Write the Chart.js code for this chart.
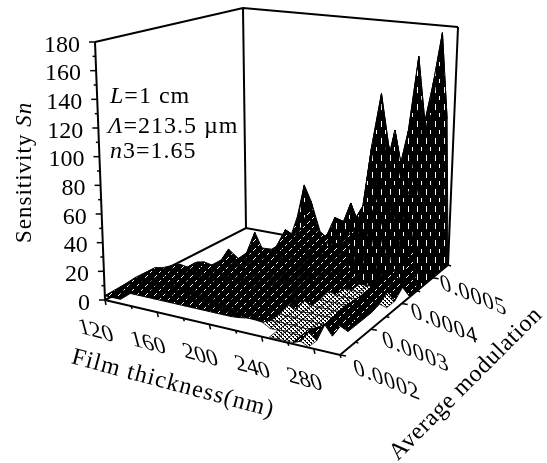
<!DOCTYPE html>
<html>
<head>
<meta charset="utf-8">
<style>
  html, body { margin: 0; background: #fff; }
  canvas { display: block; }
</style>
<script src="https://cdn.jsdelivr.net/npm/chart.js@4"></script>
</head>
<body>
<canvas id="chart" width="547" height="463"></canvas>
<script>
const _ = null;

const thickness = [120,126,132,138,144,150,156,162,168,174,180,186,192,198,204,210,216,222,228,234,240,246,252,258,264,270,276,282,288,294,300];
const modulation = [0.0002,0.000225,0.00025,0.000275,0.0003,0.000325,0.00035,0.000375,0.0004,0.000425,0.00045,0.000475,0.0005,0.000525,0.00055];

// sensitivity, one list per modulation (null = no surface there)
const sn200 = [3,3,3,_,_,_,_,_,_,_,_,_,_,_,_,_,_,_,_,_,_,1,1,1,1,3,0.5,_,_,_,_];
const sn225 = [3.5,3.5,3.5,3.5,3.5,3.5,3.5,3.5,3.5,3.5,3.5,3.5,3.5,3.5,3.5,3.5,4,5,5,4.5,1.5,1.5,2,1.5,1.5,5,0.5,_,_,_,_];
const sn250 = [4,4,4,4,4,4,4,4,4,4,4,4,4,4,4,4,4,4,3.5,1.5,2,1.5,2,1.5,1.5,4,7,0.5,_,_,_];
const sn275 = [5,4,5,4,5,5,4,5,5,5,5,5,5,5,5,5,5,4,4,2,1.5,2,1.5,2,1.5,2,8,3,0.5,_,_];
const sn300 = [5,5,6,5,5,6,5,5,6,5,6,6,5,6,6,6,5,6,5,4,2,1.5,2,1.5,2,2,9,8,0.5,_,_];
const sn325 = [5,6,5,6,5,6,5,6,5,6,7,6,7,6,7,7,6,7,6,5,4,2,1.5,2,1.5,2,9,11,0.5,_,_];
const sn350 = [_,4,6,5,9,6,5,6,6,7,6,7,8,7,8,7,8,8,7,6,5,2,1.5,2,1.5,2,8,12,0.5,_,_];
const sn375 = [_,_,_,5,6,5,7,6,7,8,7,8,9,8,9,10,9,10,9,8,7,3.5,2,1.5,2,1.5,8,14,2,0.5,_];
const sn400 = [_,_,_,_,_,5,14,7,8,7,9,8,10,9,11,10,12,11,13,12,11,9,2,2,1.5,2,8,16,6,0.5,_];
const sn425 = [_,_,_,_,_,_,3,6,8,7,9,11,9,10,13,11,14,13,18,15,18,16,8,2,2,2.5,8,14,18,6,0.5];
const sn450 = [_,_,_,_,_,_,4,20,9,7,12,10,10,14,12,16,20,18,24,22,30,36,50,42,56,40,58,85,62,40,0.5];
const sn475 = [_,_,_,_,_,_,_,_,4,8,21,12,9,12,16,14,24,37,28,30,40,50,95,60,78,52,70,110,78,96,0.5];
const sn500 = [_,_,_,_,_,_,_,_,_,4,12,20,12,8,7,10,22,30,45,28,38,62,131,72,105,80,95,162,92,120,0.5];
const sn525 = [_,_,_,_,_,_,_,_,_,22,48,36,14,4,6,8,12,16,24,30,45,70,88,55,70,80,88,110,140,178,0.5];
const sn550 = [_,_,_,_,_,_,_,_,_,_,_,8,4,3,5,6,10,14,20,24,30,36,58,40,50,60,78,100,120,110,0.5];
const surface = [sn200,sn225,sn250,sn275,sn300,sn325,sn350,sn375,sn400,sn425,sn450,sn475,sn500,sn525,sn550];

const snTicks = [0,20,40,60,80,100,120,140,160,180];
const thicknessTicks = [120,160,200,240,280];
const modulationTicks = [0.0002,0.0003,0.0004,0.0005];

const FONT = '"Liberation Serif", serif';
const tMin = 120, tMax = 300, mMin = 0.0002, mMax = 0.00055, snMax = 180;

// box corners on the page: A left, B back, C right, D front
const floorBox = { A: [105,300], B: [246,228], C: [448,265], D: [340,355] };
const topBox = { A: [95,42], B: [243,8], C: [458,27], D: [343,79] };

function bilinear(box, u, v) {
  const out = [];
  for (const k of [0,1]) {
    out[k] = box.A[k]*(1-u)*(1-v) + box.D[k]*u*(1-v) + box.C[k]*u*v + box.B[k]*(1-u)*v;
  }
  return out;
}

// oblique 3D view: (thickness, modulation, sensitivity) to the page scales
function project(t, m, s) {
  const u = (t - tMin) / (tMax - tMin);
  const v = (m - mMin) / (mMax - mMin);
  const f = bilinear(floorBox, u, v);
  const c = bilinear(topBox, u, v);
  const h = s / snMax;
  return { x: f[0] + (c[0]-f[0])*h, y: f[1] + (c[1]-f[1])*h };
}

function makePattern(w, h, bg, fg, dots) {
  const c = document.createElement('canvas');
  c.width = w; c.height = h;
  const g = c.getContext('2d');
  g.fillStyle = bg; g.fillRect(0, 0, w, h);
  g.fillStyle = fg;
  dots.forEach(d => g.fillRect(d[0], d[1], d[2], d[3]));
  return g.createPattern(c, 'repeat');
}
const lowFill = makePattern(9, 9, '#000', '#fff', [[1,7,1,1],[2,6,1,1],[3,5,1,1],[6,2,1,1],[7,1,1,1]]);
const tallFill = makePattern(9, 17, '#000', '#fff', [[3,2,1,6],[7,11,1,4]]);
const flatFill = makePattern(4, 4, '#fff', '#000', [[0,0,2,1],[2,2,2,1],[1,1,1,1],[3,3,1,1]]);

function line(points, width) {
  return { data: points, showLine: true, borderColor: '#000', borderWidth: width, pointRadius: 0, fill: false };
}

const painted = [];

// walls and floor, behind the surface
const p = project;
painted.push(line([p(tMin,mMin,snMax), p(tMin,mMax,snMax), p(tMax,mMax,snMax)], 2));
painted.push(line([p(tMin,mMin,0), p(tMin,mMin,snMax)], 2));
painted.push(line([p(tMin,mMax,0), p(tMin,mMax,snMax)], 2));
painted.push(line([p(tMax,mMax,0), p(tMax,mMax,snMax)], 2));
painted.push(line([p(tMin,mMin,0), p(tMin,mMax,0), p(tMax,mMax,0)], 2));
painted.push(line([p(tMin,mMin,0), p(tMax,mMin,0), p(tMax,mMax,0)], 2));

// tick marks
for (let s = 0; s <= snMax; s += 10) {
  const a = p(tMin, mMin, s);
  painted.push(line([a, { x: a.x - (s % 20 === 0 ? 6 : 3), y: a.y }], 1.5));
}
for (let t = tMin; t <= tMax; t += 20) {
  const a = p(t, mMin, 0);
  painted.push(line([a, { x: a.x + 1, y: a.y + ((t - tMin) % 40 === 0 ? 5 : 3) }], 1.5));
}
for (let i = 0; i <= 7; i++) {
  const a = p(tMax, mMin + i * 0.00005, 0);
  painted.push(line([a, { x: a.x + (i % 2 === 0 ? 6 : 3), y: a.y + 1 }], 1.5));
}

// surface cells, back row first so nearer cells cover farther ones
for (let j = modulation.length - 2; j >= 0; j--) {
  for (let i = 0; i < thickness.length - 1; i++) {
    const cell = [surface[j][i], surface[j][i+1], surface[j+1][i+1], surface[j+1][i]];
    if (cell.some(s => s === null)) continue;
    const mean = (cell[0] + cell[1] + cell[2] + cell[3]) / 4;
    const flat = mean < 2.6;
    const corner = [
      p(thickness[i], modulation[j], cell[0]),
      p(thickness[i+1], modulation[j], cell[1]),
      p(thickness[i+1], modulation[j+1], cell[2]),
      p(thickness[i], modulation[j+1], cell[3])
    ];
    painted.push({
      data: [...corner, corner[0]],
      showLine: true,
      fill: 'shape',
      backgroundColor: flat ? flatFill : (mean > 25 ? tallFill : lowFill),
      borderColor: '#000',
      borderWidth: flat ? 0.7 : 1,
      borderJoinStyle: 'bevel',
      pointRadius: 0
    });
  }
}

// chart.js paints dataset 0 last
const datasets = painted.reverse();

function text(ctx, str, x, y, o) {
  ctx.save();
  ctx.translate(x, y);
  if (o.matrix) ctx.transform(o.matrix[0], o.matrix[1], o.matrix[2], o.matrix[3], 0, 0);
  if (o.angle) ctx.rotate(o.angle * Math.PI / 180);
  ctx.fillStyle = '#000';
  ctx.font = o.font || ('24px ' + FONT);
  ctx.letterSpacing = o.spacing || '0px';
  ctx.textAlign = o.align || 'center';
  ctx.textBaseline = o.baseline || 'middle';
  ctx.fillText(str, 0, 0);
  ctx.restore();
}

// mixed roman and italic pieces on one baseline
function runs(ctx, parts, x, y, size, spacing, angle) {
  ctx.save();
  ctx.translate(x, y);
  if (angle) ctx.rotate(angle * Math.PI / 180);
  ctx.fillStyle = '#000';
  ctx.letterSpacing = spacing;
  ctx.textBaseline = 'alphabetic';
  let at = 0;
  for (const [str, italic] of parts) {
    ctx.font = (italic ? 'italic ' : '') + size + 'px ' + FONT;
    ctx.fillText(str, at, 0);
    at += ctx.measureText(str).width;
  }
  ctx.restore();
}

const labels = {
  id: 'labels',
  afterDatasetsDraw(chart) {
    const ctx = chart.ctx;
    const tickShear = [0.966, 0.259, 0.26, 0.966];
    const modShear = [0.927, 0.375, 0.2, 0.98];
    snTicks.forEach(s => {
      const a = p(tMin, mMin, s);
      text(ctx, String(s), a.x - 15, a.y + 3.5, { align: 'right' });
    });
    thicknessTicks.forEach(t => {
      const a = p(t, mMin, 0);
      text(ctx, String(t), a.x - 9, a.y + 31.5, { matrix: tickShear });
    });
    modulationTicks.forEach((m, i) => {
      const a = p(tMax, m, 0);
      text(ctx, m.toFixed(4), a.x + 47 - i * 2, a.y + 26 - i * 2.5, { matrix: modShear, spacing: '1px' });
    });
    text(ctx, 'Film thickness(nm)', 173, 384, { spacing: '1.2px', angle: 15 });
    text(ctx, 'Average modulation', 466, 384, { spacing: '0.6px', angle: -45 });
    runs(ctx, [['Sensitivity ', false], ['Sn', true]], 31, 243, 23, '1px', -90);
    runs(ctx, [['L', true], ['=1 cm', false]], 110, 103, 24, '1px');
    runs(ctx, [['\u039B', true], ['=213.5 \u00B5m', false]], 108, 133, 24, '1px');
    runs(ctx, [['n', true], ['3=1.65', false]], 110, 158, 24, '1px');
  }
};

new Chart(document.getElementById('chart'), {
  type: 'scatter',
  data: { datasets },
  options: {
    responsive: false,
    animation: false,
    devicePixelRatio: 1,
    layout: { padding: 0 },
    elements: { line: { tension: 0 } },
    plugins: { legend: { display: false }, tooltip: { enabled: false }, title: { display: false } },
    scales: {
      x: { type: 'linear', min: 0, max: 547, display: false },
      y: { type: 'linear', min: 0, max: 463, reverse: true, display: false }
    }
  },
  plugins: [labels]
});
</script>
</body>
</html>
